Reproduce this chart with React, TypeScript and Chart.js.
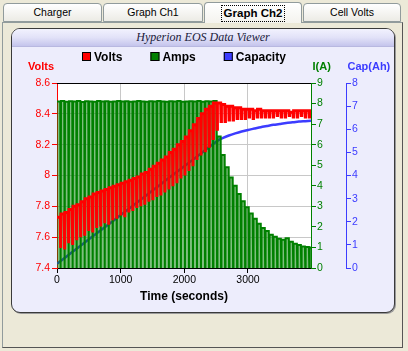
import React, { useEffect, useRef } from 'react';
import { Chart, registerables } from 'chart.js';

Chart.register(...registerables);

// ---------- texts ----------
const TAB_LABELS = ['Charger', 'Graph Ch1', 'Graph Ch2', 'Cell Volts'];
const SELECTED_TAB = 2;
const PANEL_TITLE = 'Hyperion EOS Data Viewer';
const SERIES_NAMES = ['Volts', 'Amps', 'Capacity'];
const AXIS_TITLES = ['Volts', 'I(A)', 'Cap(Ah)'];
const X_TITLE = 'Time (seconds)';

// ---------- data ----------
// charger works in pulses: current on, then a short rest where voltage relaxes
const PULSE_SECONDS = 63;
const REST_AMPS = 0;

// volts while charging (one value per pulse)
const voltsCharge = [
  7.73, 7.75, 7.76, 7.78, 7.80, 7.81, 7.83, 7.85, 7.86, 7.88,
  7.89, 7.90, 7.91, 7.92, 7.93, 7.94, 7.95, 7.96, 7.97, 7.98,
  7.99, 8.01, 8.02, 8.04, 8.06, 8.08, 8.10, 8.12, 8.15, 8.17,
  8.20, 8.22, 8.25, 8.29, 8.33, 8.37, 8.40, 8.43, 8.45, 8.47,
  8.47, 8.46, 8.45, 8.45, 8.44, 8.44, 8.43, 8.43, 8.43, 8.42,
  8.43, 8.42, 8.42, 8.42, 8.42, 8.42, 8.42, 8.42, 8.41, 8.42,
  8.42, 8.42, 8.42, 8.42,
];
// volts during the rest at the end of each pulse
const voltsRest = [
  7.53, 7.52, 7.56, 7.55, 7.58, 7.60, 7.61, 7.64, 7.63, 7.66,
  7.67, 7.69, 7.68, 7.71, 7.72, 7.74, 7.73, 7.76, 7.77, 7.79,
  7.80, 7.81, 7.83, 7.84, 7.86, 7.87, 7.89, 7.91, 7.93, 7.95,
  7.98, 8.00, 8.03, 8.06, 8.10, 8.13, 8.16, 8.19, 8.24, 8.30,
  8.35, 8.35, 8.36, 8.36, 8.37, 8.37, 8.37, 8.38, 8.37, 8.38,
  8.38, 8.38, 8.38, 8.38, 8.39, 8.38, 8.38, 8.39, 8.38, 8.38,
  8.39, 8.38, 8.38, 8.38,
];
// amps while charging (one value per pulse)
const ampsCharge = [
  8.10, 8.12, 8.09, 8.11, 8.10, 8.12, 8.08, 8.11, 8.10, 8.09,
  8.12, 8.10, 8.11, 8.09, 8.10, 8.12, 8.10, 8.11, 8.09, 8.10,
  8.12, 8.10, 8.09, 8.11, 8.10, 8.12, 8.10, 8.09, 8.11, 8.10,
  8.12, 8.09, 8.10, 8.11, 8.10, 8.12, 8.09, 8.11, 8.10, 8.12,
  6.40, 5.50, 4.90, 4.40, 4.00, 3.60, 3.25, 2.95, 2.65, 2.40,
  2.15, 1.95, 1.80, 1.62, 1.52, 1.42, 1.38, 1.45, 1.28, 1.18,
  1.12, 1.05, 1.02, 1.00,
];
// capacity (Ah)
const capTimes = [
  0, 250, 500, 750, 1000, 1250, 1500, 1750, 2000, 2250, 2500, 2550, 2600,
  2700, 2800, 2900, 3000, 3100, 3200, 3300, 3400, 3500, 3600, 3700, 3800, 3900, 3990,
];
const capAh = [
  0.18, 0.71, 1.24, 1.76, 2.29, 2.82, 3.35, 3.88, 4.40, 4.93, 5.46, 5.55, 5.62,
  5.73, 5.82, 5.90, 5.97, 6.03, 6.09, 6.14, 6.19, 6.23, 6.27, 6.30, 6.33, 6.35, 6.37,
];

// tick values
const X_TICKS = [0, 1000, 2000, 3000];
const VOLT_TICKS = [7.4, 7.6, 7.8, 8, 8.2, 8.4, 8.6];
const AMP_TICKS = [0, 1, 2, 3, 4, 5, 6, 7, 8, 9];
const CAP_TICKS = [0, 1, 2, 3, 4, 5, 6, 7, 8];
const X_MAX = 3990;

const RED = '#FF0000';
const GREEN = '#008000';
const BLUE = '#3C3CFF';
const FONT = '"Liberation Sans", Arial, sans-serif';

function pulsed(on: number[], rest: number[] | number) {
  const pts: { x: number; y: number }[] = [];
  on.forEach((v, i) => {
    const t = i * PULSE_SECONDS;
    const r = Array.isArray(rest) ? rest[i] : rest;
    pts.push({ x: t, y: v });
    pts.push({ x: t + PULSE_SECONDS - 12, y: v });
    pts.push({ x: t + PULSE_SECONDS - 6, y: r });
  });
  return pts;
}

const fixedTicks = (vals: number[]) => (s: any) => {
  s.ticks = vals.map((v) => ({ value: v }));
};

const decorPlugin = {
  id: 'decor',
  beforeDraw(chart: any) {
    const { ctx, chartArea: a } = chart;
    ctx.save();
    ctx.fillStyle = '#FFFFFF';
    ctx.fillRect(a.left, a.top, a.right - a.left, a.bottom - a.top);
    ctx.restore();
  },
  afterDraw(chart: any) {
    const { ctx, chartArea: a, scales } = chart;
    ctx.save();
    // top frame line
    ctx.strokeStyle = '#000';
    ctx.lineWidth = 1;
    ctx.beginPath();
    ctx.moveTo(a.left, a.top + 0.5);
    ctx.lineTo(a.right, a.top + 0.5);
    ctx.stroke();

    // legend
    ctx.font = `bold 12px ${FONT}`;
    const items = chart.data.datasets.map((ds: any) => ({
      label: ds.label,
      color: ds.borderColor,
      w: ctx.measureText(ds.label).width,
    }));
    const box = 9, gapBox = 3, gapItem = 28;
    const total = items.reduce((s: number, it: any) => s + box + gapBox + it.w, 0) + gapItem * (items.length - 1);
    let x = Math.round((a.left + a.right) / 2 - total / 2);
    const ly = 10;
    ctx.textBaseline = 'middle';
    ctx.textAlign = 'left';
    items.forEach((it: any) => {
      ctx.fillStyle = it.color;
      ctx.fillRect(x, ly - 5, box, box);
      ctx.strokeStyle = '#000';
      ctx.lineWidth = 1;
      ctx.strokeRect(x + 0.5, ly - 4.5, box - 1, box - 1);
      ctx.fillStyle = '#000';
      ctx.fillText(it.label, x + box + gapBox, ly + 0.5);
      x += box + gapBox + it.w + gapItem;
    });

    // axis titles
    ctx.font = `bold 11px ${FONT}`;
    const ty = 20;
    ctx.fillStyle = RED;
    ctx.textAlign = 'right';
    ctx.fillText(AXIS_TITLES[0], scales.y.right - 3, ty);
    ctx.textAlign = 'left';
    ctx.fillStyle = GREEN;
    ctx.fillText(AXIS_TITLES[1], scales.yI.left + 1.5, ty);
    ctx.fillStyle = BLUE;
    ctx.fillText(AXIS_TITLES[2], scales.yC.left + 1.5, ty);

    ctx.font = `bold 12px ${FONT}`;
    ctx.fillStyle = '#000';
    ctx.textAlign = 'center';
    ctx.fillText(X_TITLE, (a.left + a.right) / 2, a.bottom + 29);
    ctx.restore();
  },
};

function ChartCanvas() {
  const ref = useRef<HTMLCanvasElement | null>(null);
  useEffect(() => {
    if (!ref.current) return;
    const tickFont = { family: FONT, size: 10.5 };
    const chart = new Chart(ref.current, {
      type: 'line',
      data: {
        datasets: [
          {
            label: SERIES_NAMES[0],
            data: pulsed(voltsCharge, voltsRest),
            yAxisID: 'y',
            borderColor: RED,
            backgroundColor: RED,
            borderWidth: 3,
            pointRadius: 0,
            fill: false,
            tension: 0,
          },
          {
            label: SERIES_NAMES[1],
            data: pulsed(ampsCharge, REST_AMPS),
            yAxisID: 'yI',
            borderColor: GREEN,
            backgroundColor: 'rgba(0,128,0,0.5)',
            borderWidth: 2,
            pointRadius: 0,
            fill: 'origin',
            tension: 0,
          },
          {
            label: SERIES_NAMES[2],
            data: capTimes.map((t, i) => ({ x: t, y: capAh[i] })),
            yAxisID: 'yC',
            borderColor: BLUE,
            backgroundColor: BLUE,
            borderWidth: 2.5,
            pointRadius: 0,
            fill: false,
            tension: 0.2,
          },
        ],
      },
      options: {
        animation: false,
        responsive: false,
        devicePixelRatio: 1,
        layout: { padding: { left: 0, right: 8, top: 36, bottom: 5 } },
        plugins: { legend: { display: false }, tooltip: { enabled: false } },
        scales: {
          x: {
            type: 'linear',
            min: X_TICKS[0],
            max: X_MAX,
            afterBuildTicks: fixedTicks(X_TICKS),
            ticks: {
              color: '#000',
              font: tickFont,
              padding: 1,
              maxRotation: 0,
              autoSkip: false,
              callback: (v: any) => String(v),
            },
            grid: { color: '#C8C8C8', tickColor: '#000', tickLength: 5 },
            border: { color: '#000', width: 1 },
            afterFit: (s: any) => { s.height = 38; },
          },
          y: {
            type: 'linear',
            position: 'left',
            min: VOLT_TICKS[0],
            max: VOLT_TICKS[VOLT_TICKS.length - 1],
            afterBuildTicks: fixedTicks(VOLT_TICKS),
            ticks: {
              color: RED,
              font: tickFont,
              padding: 2,
              autoSkip: false,
              callback: (v: any) => String(Math.round(Number(v) * 10) / 10),
            },
            grid: { color: '#C8C8C8', tickColor: RED, tickLength: 5 },
            border: { color: RED, width: 1 },
            afterFit: (s: any) => { s.width = 45; },
          },
          yI: {
            type: 'linear',
            position: 'right',
            min: AMP_TICKS[0],
            max: AMP_TICKS[AMP_TICKS.length - 1],
            afterBuildTicks: fixedTicks(AMP_TICKS),
            ticks: { color: GREEN, font: tickFont, padding: 1, autoSkip: false },
            grid: { drawOnChartArea: false, tickColor: GREEN, tickLength: 5 },
            border: { color: GREEN, width: 1 },
            afterFit: (s: any) => { s.width = 35; },
          },
          yC: {
            type: 'linear',
            position: 'right',
            min: CAP_TICKS[0],
            max: CAP_TICKS[CAP_TICKS.length - 1],
            afterBuildTicks: fixedTicks(CAP_TICKS),
            ticks: { color: BLUE, font: tickFont, padding: 1, autoSkip: false },
            grid: { drawOnChartArea: false, tickColor: BLUE, tickLength: 5 },
            border: { color: BLUE, width: 1 },
            afterFit: (s: any) => { s.width = 40; },
          },
        },
      } as any,
      plugins: [decorPlugin],
    });
    return () => chart.destroy();
  }, []);
  return <canvas ref={ref} width={382} height={264} style={{ position: 'absolute', left: 0, top: 18, width: 382, height: 264 }} />;
}

const TAB_GEOM = [
  { left: 3, width: 99 },
  { left: 103, width: 100 },
  { left: 204, width: 98 },
  { left: 303, width: 98 },
];

export default function App() {
  return (
    <div
      style={{
        position: 'fixed',
        left: 0,
        top: 0,
        width: 408,
        height: 351,
        background: '#ECE9D8',
        overflow: 'hidden',
        fontFamily: FONT,
      }}
    >
      {/* tab page */}
      <div
        style={{
          position: 'absolute',
          left: 2,
          top: 22,
          width: 399,
          height: 324,
          border: '1px solid #919B9C',
          borderRightColor: '#555',
          borderBottomColor: '#555',
          background: '#ECE9D8',
          boxSizing: 'content-box',
        }}
      />
      {/* tabs */}
      {TAB_LABELS.map((t, i) => {
        const sel = i === SELECTED_TAB;
        const g = TAB_GEOM[i];
        return (
          <div
            key={t}
            style={{
              position: 'absolute',
              left: g.left,
              top: sel ? 2 : 3,
              width: g.width,
              height: sel ? 21 : 19,
              boxSizing: 'border-box',
              border: '1px solid #919B9C',
              borderBottom: sel ? 'none' : '1px solid #919B9C',
              borderRadius: '4px 4px 0 0',
              background: sel
                ? 'linear-gradient(#FFFFFF, #F4F3EE)'
                : 'linear-gradient(#FFFFFF, #ECEBE5)',
              display: 'flex',
              alignItems: 'center',
              justifyContent: 'center',
              fontSize: sel ? 11.5 : 10.5,
              fontWeight: sel ? 700 : 400,
              color: '#000',
              zIndex: sel ? 2 : 1,
            }}
          >
            <span
              style={{
                border: sel ? '1px dotted #000' : '1px solid transparent',
                padding: '1px 2px',
                lineHeight: '13px',
              }}
            >
              {t}
            </span>
          </div>
        );
      })}
      {/* panel */}
      <div
        style={{
          position: 'absolute',
          left: 11,
          top: 28,
          width: 384,
          height: 285,
          boxSizing: 'border-box',
          border: '1px solid #3A3A3A',
          borderRadius: 9,
          background: '#EDEDFC',
          overflow: 'hidden',
          boxShadow: '1px 1px 0 #9A9A9A',
        }}
      >
        <div
          style={{
            position: 'absolute',
            left: 0,
            top: 0,
            width: '100%',
            height: 18,
            background: 'linear-gradient(#F2F2FE, #E2E2F8 50%, #C4C4EC)',
            borderBottom: '1px solid #B8B8E0',
            boxSizing: 'border-box',
            textAlign: 'center',
            fontFamily: '"Liberation Serif", "Times New Roman", serif',
            fontStyle: 'italic',
            fontSize: 12,
            lineHeight: '17px',
            color: '#1A1A3A',
          }}
        >
          {PANEL_TITLE}
        </div>
        <ChartCanvas />
      </div>
    </div>
  );
}
